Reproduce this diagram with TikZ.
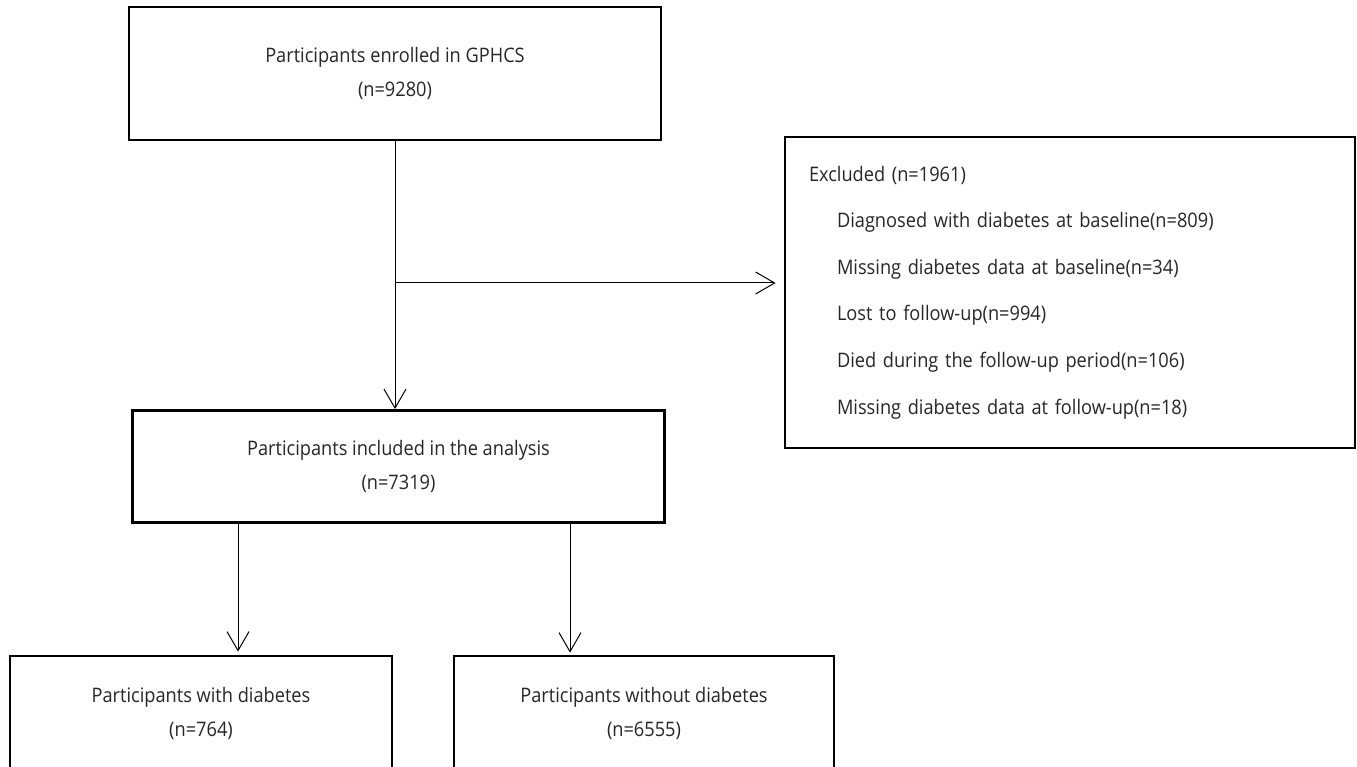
\documentclass[tikz,border=0pt]{standalone}
\usepackage{fontspec}
\setmainfont[FakeStretch=0.91]{Open Sans}
\usetikzlibrary{arrows.meta}
\tikzset{
  box/.style={draw=black, line width=2.8pt, rectangle, inner sep=0pt, align=center, text=black!85,
              font=\fontsize{20}{34}\selectfont},
  conn/.style={draw=black, line width=1pt, -{Straight Barb[length=19pt,width=22pt,line width=1pt]}},
}
\begin{document}
\begin{tikzpicture}[x=1pt,y=-1pt]
\useasboundingbox (0,0) rectangle (1357,767);
\clip (0,0) rectangle (1357,767);
\node[box, minimum width=532pt, minimum height=133pt] (top) at (395,73.5)
  {Participants enrolled in GPHCS\\(n=9280)};
\node[box, minimum width=532pt, minimum height=112pt] (mid) at (398.5,466.5)
  {Participants included in the analysis\\(n=7319)};
\node[box, minimum width=570pt, minimum height=311pt, align=left, text width=522pt,
      font=\fontsize{20}{46.6}\selectfont] (excl) at (1070,292.5)
  {Excluded (n=1961)\\
   \hspace*{28pt}Diagnosed with diabetes at baseline(n=809)\\
   \hspace*{28pt}Missing diabetes data at baseline(n=34)\\
   \hspace*{28pt}Lost to follow-up(n=994)\\
   \hspace*{28pt}Died during the follow-up period(n=106)\\
   \hspace*{28pt}Missing diabetes data at follow-up(n=18)};
\node[box, minimum width=382pt, minimum height=114pt] (left) at (201,713)
  {Participants with diabetes\\(n=764)};
\node[box, minimum width=380pt, minimum height=114pt] (right) at (644,713)
  {Participants without diabetes\\(n=6555)};
\coordinate (split) at (395,283);
\draw[conn] (top.south) -- (top.south |- mid.north);
\draw[conn, shorten >=8pt] (split) -- (split -| excl.west);
\draw[conn, shorten >=3pt] (238,522) coordinate (l0) -- (l0 |- left.north);
\draw[conn, shorten >=2pt] (570,522) coordinate (r0) -- (r0 |- right.north);
\end{tikzpicture}
\end{document}
